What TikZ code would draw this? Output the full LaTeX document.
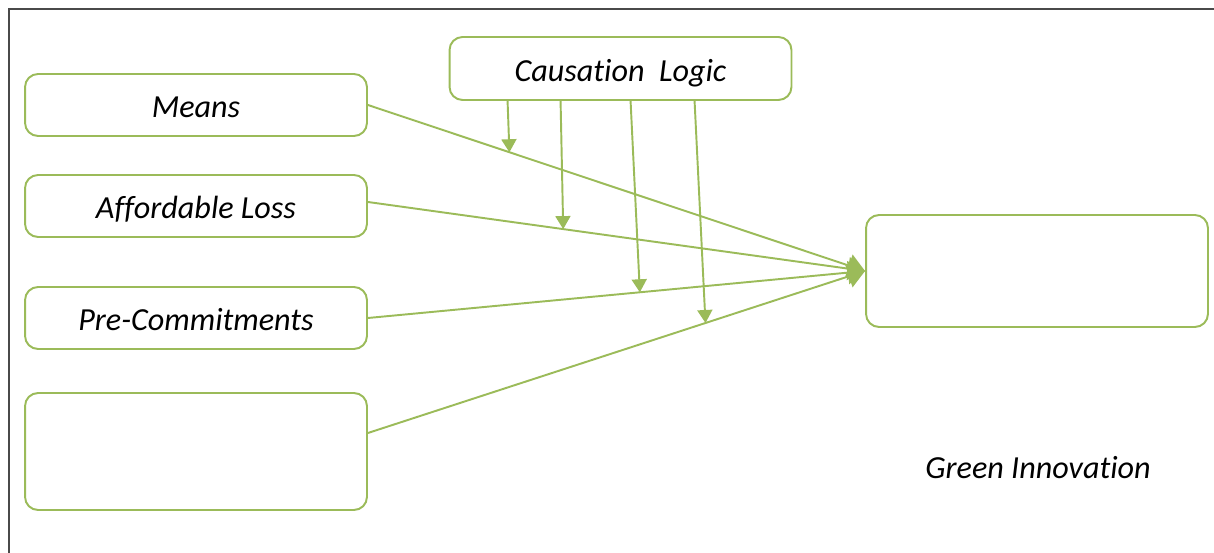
\documentclass[tikz,border=0pt]{standalone}
\usepackage{fontspec}
\setmainfont{Carlito}[Ligatures=NoCommon]
\usetikzlibrary{arrows.meta,calc}
\definecolor{leaf}{HTML}{9BBB59}
\definecolor{frameline}{HTML}{4A4A4A}
\tikzset{
  labelfont/.style={font=\itshape\fontsize{18.3}{21}\selectfont, text height=14.4pt, text depth=0pt},
  card/.style={draw=leaf, line width=1.1pt, rounded corners=0.26cm, fill=white,
    minimum width=6.84cm, inner sep=0pt, labelfont},
  link/.style={draw=leaf, line width=1.1pt},
  bigtip/.style={link, -{Triangle[length=0.34cm, width=0.46cm]}},
  smalltip/.style={link, -{Triangle[length=0.26cm, width=0.3cm]}},
}
\begin{document}
\begin{tikzpicture}[x=0.02cm, y=-0.02cm]
  \useasboundingbox (0,0) rectangle (1214,553);
  % page frame (top and left edges)
  \draw[frameline, line width=0.8pt] (1214,9) -- (9,9) -- (9,553);

  % left-hand factors
  \node[card, minimum height=1.24cm] (means) at (196,105) {Means};
  \node[card, minimum height=1.24cm] (loss) at (196,206) {Affordable Loss};
  \node[card, minimum height=1.24cm] (pre) at (196,318) {Pre-Commitments};
  \node[card, minimum height=2.34cm] (blank) at (196,451.5) {};

  % moderator
  \node[card, minimum height=1.26cm] (cl) at (620.5,68.5) {Causation\ \ Logic};

  % outcome
  \node[card, minimum height=2.24cm] (gi) at (1037,271) {};
  \node[labelfont] (gilabel) at (1038,466) {Green Innovation};

  % direct effects
  \coordinate (blankout) at ($(blank.east)+(0,-18.5)$);
  \coordinate (lossout) at ($(loss.east)+(0,-4)$);
  \draw[bigtip] (means.east) -- (gi.west);
  \draw[bigtip] (lossout) -- (gi.west);
  \draw[bigtip] (pre.east) -- (gi.west);
  \draw[bigtip] (blankout) -- (gi.west);

  % moderating effects
  \coordinate (c1) at ($(cl.south west)+(59,0)$);
  \coordinate (c2) at ($(cl.south west)+(112,0)$);
  \coordinate (c3) at ($(cl.south west)+(182,0)$);
  \coordinate (c4) at ($(cl.south west)+(246,0)$);
  \coordinate (h1) at ($(means.east)!0.2846!(gi.west)$);
  \coordinate (h2) at ($(lossout)!0.3928!(gi.west)$);
  \coordinate (h3) at ($(pre.east)!0.547!(gi.west)$);
  \coordinate (h4) at ($(blankout)!0.679!(gi.west)$);
  \draw[smalltip] (c1) -- (h1);
  \draw[smalltip] (c2) -- (h2);
  \draw[smalltip] (c3) -- (h3);
  \draw[smalltip] (c4) -- (h4);
\end{tikzpicture}
\end{document}
